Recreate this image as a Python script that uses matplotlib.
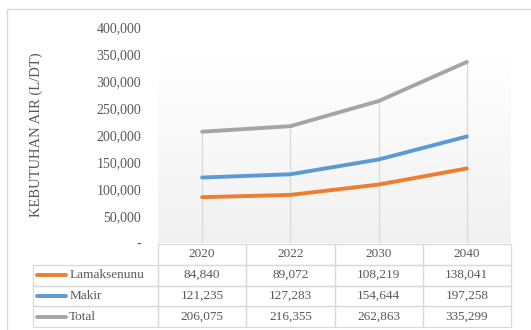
import numpy as np
import matplotlib
matplotlib.use("Agg")
import matplotlib.pyplot as plt
from matplotlib.ticker import FuncFormatter
from matplotlib.lines import Line2D
from matplotlib.patches import Rectangle

years = ["2020", "2022", "2030", "2040"]
series_names = ["Lamaksenunu", "Makir", "Total"]
lamaksenunu = [84840, 89072, 108219, 138041]
makir = [121235, 127283, 154644, 197258]
total = [206075, 216355, 262863, 335299]
colors = ["#ED7D31", "#5B9BD5", "#A5A5A5"]

txt = "#595959"
grid = "#D9D9D9"
plt.rcParams["font.family"] = ["Liberation Serif", "DejaVu Serif"]

W, H = 531, 330
fig = plt.figure(figsize=(W / 100, H / 100), dpi=100)

# outer chart border
fig.patches.append(Rectangle((7 / W, -0.1), 1.2, 1.1 - 9 / H, transform=fig.transFigure,
                             fill=False, edgecolor=grid, linewidth=1))

# plot area in pixels
x0, x1, ytop, ybot = 158, 511, 27, 243
ax = fig.add_axes([x0 / W, 1 - ybot / H, (x1 - x0) / W, (ybot - ytop) / H])

xs = np.arange(len(years))
ax.set_xlim(-0.5, len(years) - 0.5)

# soft gradient background (inner plot area starts lower than the top tick)
grad = np.linspace(0.945, 1.0, 100).reshape(-1, 1)
ax.imshow(np.dstack([grad, grad, grad]), extent=[-0.5, len(years) - 0.5, 0, 348000],
          aspect="auto", origin="lower", zorder=0)
ax.set_ylim(0, 400000)

# drop lines from highest series
ax.vlines(xs, 0, total, color=grid, linewidth=0.9, zorder=1)

for vals, c in zip([lamaksenunu, makir, total], colors):
    ax.plot(xs, vals, color=c, linewidth=2.8, solid_capstyle="round", zorder=3)

for s in ax.spines.values():
    s.set_visible(False)
ax.set_xticks([])
ax.set_yticks(np.arange(0, 400001, 50000))
ax.yaxis.set_major_formatter(FuncFormatter(lambda v, p: "-" if v == 0 else f"{v:,.0f}"))
ax.tick_params(axis="y", length=0, pad=12, labelsize=10, labelcolor=txt)
ax.set_ylabel("KEBUTUHAN AIR (L/DT)", fontsize=10.5, color=txt)
ax.yaxis.set_label_coords((43 - x0) / (x1 - x0), 0.5)

# data table below
cell_text = [[""] + years]
for name, vals in zip(series_names, [lamaksenunu, makir, total]):
    cell_text.append([name] + [f"{v:,.0f}" for v in vals])

left = (33 - x0) / (x1 - x0)
bottom = (ybot - 327) / (ybot - ytop)
top = (ybot - 244) / (ybot - ytop)
lab_w = (158 - 33) / (x1 - x0)
col_w = 0.25
tbl = ax.table(cellText=cell_text, colWidths=[lab_w] + [col_w] * 4,
               bbox=[left, bottom, 1 - left, top - bottom], cellLoc="center")
tbl.auto_set_font_size(False)
tbl.set_fontsize(9.5)
for (r, c), cell in tbl.get_celld().items():
    cell.set_edgecolor(grid)
    cell.set_linewidth(0.9)
    cell.get_text().set_color(txt)
    cell.set_facecolor("none")
    if c == 0:
        cell._loc = "left"
        cell.get_text().set_horizontalalignment("left")
        cell.PAD = 0.29
    if r == 0 and c == 0:
        cell.visible_edges = ""

# legend keys inside the label column
row_h = (top - bottom) / 4
for i, c in enumerate(colors):
    yc = top - row_h * (i + 1.5)
    ax.add_line(Line2D([(37 - x0) / (x1 - x0), (66 - x0) / (x1 - x0)], [yc, yc], color=c,
                       linewidth=2.8, solid_capstyle="round", transform=ax.transAxes,
                       clip_on=False))

fig.savefig("out.png", dpi=100)
